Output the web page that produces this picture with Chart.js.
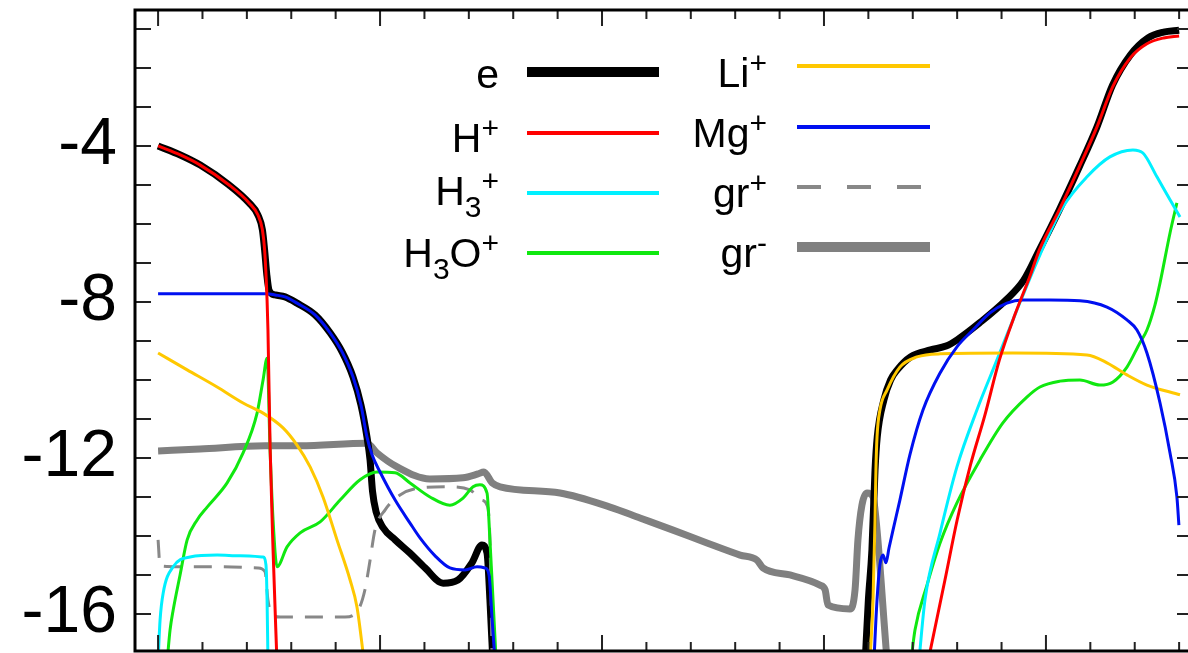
<!DOCTYPE html>
<html>
<head>
<meta charset="utf-8">
<script src="https://cdn.jsdelivr.net/npm/chart.js@4.4.1/dist/chart.umd.min.js"></script>
<style>
  html, body { margin: 0; padding: 0; background: #fff; }
  #wrap { position: relative; width: 1188px; height: 653px; overflow: hidden; }
  #legend { position: absolute; left: 0; top: 0; width: 1188px; height: 653px; pointer-events: none;
            font-family: 'Liberation Sans', Arial, sans-serif; color: #000; }
  .lab { position: absolute; font-size: 41px; line-height: 40px; white-space: nowrap; text-align: right; }
  .lab sup, .lab sub { font-size: 30px; line-height: 0; position: relative; vertical-align: baseline; }
  .lab sup { top: -14px; }
  .lab sub { top: 12px; }
  .swatch { position: absolute; }
</style>
</head>
<body>
<div id="wrap">
  <canvas id="chart" width="1188" height="653"></canvas>
  <div id="legend"></div>
</div>
<script>
// y tick labels (log abundance)
const yTickVals = [-16, -12, -8, -4];

// e (two branches, null = gap)
const eX = [0, 0.10, 0.19, 0.32, 0.41, 0.45, 0.47, 0.48, 0.49, 0.50, 0.527, 0.572, 0.626, 0.707, 0.775, 0.829, 0.878, 0.914, 0.941,
  0.955, 0.966, 0.982, 1.014, 1.068, 1.135, 1.203, 1.284, 1.351, 1.414, 1.459, 1.482, 1.495, 1.509, null,
  3.185, 3.20, 3.216, 3.23, 3.24, 3.27, 3.30, 3.33, 3.39, 3.48, 3.55, 3.60, 3.70, 3.82, 3.90, 3.97, 4.06, 4.15,
  4.23, 4.30, 4.38, 4.46, 4.53, 4.60];
const eY = [-4.00, -4.23, -4.49, -5.00, -5.46, -5.77, -6.15, -6.67, -7.31, -7.70, -7.82, -7.87, -8.03, -8.33, -8.79, -9.28, -9.92, -10.64, -11.46,
  -12.05, -12.85, -13.38, -13.79, -14.10, -14.44, -14.82, -15.21, -15.13, -14.69, -14.23, -14.44, -15.64, -17.3, null,
  -17.3, -15.64, -14.36, -12.31, -11.46, -10.51, -10.00, -9.74, -9.41, -9.23, -9.13, -8.97, -8.54, -7.95, -7.44, -6.67, -5.64, -4.54,
  -3.51, -2.44, -1.67, -1.23, -1.08, -1.03];

// H+
const hX = [0, 0.10, 0.19, 0.32, 0.41, 0.45, 0.47, 0.48, 0.491, 0.495, 0.505, 0.518, 0.536, null,
  3.473, 3.545, 3.60, 3.66, 3.725, 3.79, 3.86, 3.93, 3.97, 4.06, 4.15, 4.23, 4.30, 4.38, 4.455, 4.53, 4.60];
const hY = [-4.00, -4.23, -4.49, -5.00, -5.46, -5.77, -6.15, -6.67, -7.95, -8.72, -11.79, -14.36, -17.3, null,
  -17.1, -15.13, -13.59, -12.18, -10.90, -9.49, -8.33, -7.31, -6.67, -5.64, -4.54, -3.51, -2.49, -1.74, -1.38, -1.23, -1.18];

// H3+
const h3X = [0, 0.009, 0.023, 0.068, 0.144, 0.266, 0.37, 0.473, 0.486, 0.491, 0.495, null,
  3.428, 3.455, 3.523, 3.599, 3.689, 3.779, 3.869, 3.973, 4.077, 4.185, 4.288, 4.392, 4.437, 4.50, 4.559, 4.604];
const h3Y = [-17.2, -16.15, -15.46, -14.79, -14.54, -14.49, -14.51, -14.54, -14.74, -15.64, -17.2, null,
  -17.2, -15.64, -13.92, -12.23, -10.77, -9.49, -8.21, -6.79, -5.56, -4.79, -4.28, -4.10, -4.18, -4.79, -5.38, -5.82];

// H3O+
const h3oX = [0.041, 0.054, 0.068, 0.099, 0.131, 0.176, 0.221, 0.311, 0.383, 0.446, 0.473, 0.491, 0.505, 0.518, 0.536,
  0.581, 0.640, 0.730, 0.820, 0.910, 0.986, 1.068, 1.135, 1.225, 1.315, 1.374, 1.419, 1.450, 1.482, 1.495, 1.509, 1.523, null,
  3.392, 3.410, 3.464, 3.523, 3.599, 3.703, 3.806, 3.914, 3.973, 4.063, 4.153, 4.243, 4.302, 4.365, 4.423, 4.455,
  4.491, 4.514, 4.559, 4.590];
const h3oY = [-17.2, -16.41, -15.90, -15.00, -14.10, -13.59, -13.26, -12.64, -11.87, -10.85, -10.00, -9.44, -11.87, -13.59, -14.79,
  -14.28, -13.92, -13.64, -13.08, -12.56, -12.36, -12.38, -12.64, -13.00, -13.21, -13.03, -12.74, -12.69, -12.90, -14.10, -15.64, -17.2, null,
  -17.2, -16.41, -15.26, -14.18, -13.15, -12.05, -11.10, -10.44, -10.18, -10.03, -10.00, -10.13, -10.05, -9.67, -9.05, -8.72,
  -8.08, -7.51, -6.23, -5.46];

// Li+
const liX = [0, 0.131, 0.266, 0.383, 0.473, 0.563, 0.626, 0.685, 0.743, 0.806, 0.865, 0.896, 0.928, null,
  3.207, 3.221, 3.230, 3.234, 3.239, 3.252, 3.284, 3.342, 3.419, 3.523, 3.851, 4.185, 4.275, 4.365, 4.455, 4.604];
const liY = [-9.31, -9.74, -10.18, -10.59, -10.85, -11.23, -11.67, -12.23, -13.00, -14.10, -15.13, -15.82, -17.2, null,
  -17.2, -15.64, -13.59, -12.31, -11.46, -10.77, -10.26, -9.67, -9.41, -9.33, -9.31, -9.36, -9.56, -9.87, -10.13, -10.38];

// Mg+
const mgX = [0, 0.491, 0.527, 0.572, 0.626, 0.707, 0.775, 0.829, 0.878, 0.914, 0.941, 0.964, 1.000, 1.068, 1.135, 1.180, 1.248, 1.315,
  1.383, 1.437, 1.473, 1.491, 1.505, 1.518, null,
  3.225, 3.239, 3.252, 3.266, 3.279, 3.293, 3.311, 3.342, 3.387, 3.446, 3.523, 3.599, 3.671, 3.748, 3.824, 3.896,
  4.018, 4.153, 4.275, 4.365, 4.410, 4.455, 4.514, 4.559, 4.590, 4.599];
const mgY = [-7.79, -7.79, -7.82, -7.87, -8.03, -8.33, -8.79, -9.28, -9.92, -10.64, -11.46, -11.92, -12.36, -13.08, -13.67, -14.05, -14.51, -14.82,
  -14.87, -14.79, -14.82, -15.00, -16.15, -17.2, null,
  -17.2, -15.64, -14.74, -14.49, -14.69, -14.31, -13.85, -13.08, -11.92, -10.77, -9.82, -9.15, -8.72, -8.28, -8.03, -7.95,
  -7.95, -7.97, -8.13, -8.46, -8.72, -9.31, -10.59, -11.87, -13.00, -13.72];

// gr+
const grpX = [0, 0.009, 0.099, 0.279, 0.450, 0.482, 0.495, 0.514, 0.550, 0.842, 0.901, 0.932, 0.955, 0.977, 1.023, 1.090,
  1.180, 1.315, 1.405, 1.459, 1.482, 1.495, 1.505];
const grpY = [-14.10, -14.77, -14.79, -14.79, -14.82, -14.92, -15.64, -16.03, -16.08, -16.08, -15.90, -15.38, -14.62, -13.85, -13.33, -12.95,
  -12.77, -12.74, -12.82, -13.08, -13.21, -14.10, -17.2];

// gr-
const grmX = [0, 0.189, 0.482, 0.640, 0.941, 0.986, 1.077, 1.225, 1.374, 1.441, 1.468, 1.505, 1.541, 1.811, 2.036, 2.171, 2.320,
  2.473, 2.622, 2.698, 2.725, 2.847, 2.982, 3.005, 3.018, 3.117, 3.140, 3.153, 3.171, 3.194, 3.221, 3.239, 3.257, 3.270, 3.284];
const grmY = [-11.82, -11.77, -11.69, -11.69, -11.62, -11.87, -12.23, -12.54, -12.51, -12.41, -12.36, -12.64, -12.74, -12.90, -13.26, -13.54, -13.85,
  -14.18, -14.49, -14.62, -14.82, -15.00, -15.26, -15.38, -15.77, -15.87, -15.38, -14.10, -13.21, -12.90, -13.00, -13.85, -15.13, -16.15, -17.2];

const zip = (xs, ys) => xs.map((x, i) => ({x: x, y: ys[i]}));

// styles, legend order: e, H+, H3+, H3O+, Li+, Mg+, gr+, gr-
const series = [
  {name: 'e',    data: zip(eX, eY),     color: '#000000', width: 7, legW: 10, order: 8},
  {name: 'H+',   data: zip(hX, hY),     color: '#ff0000', width: 3, legW: 4, order: 1},
  {name: 'H3+',  data: zip(h3X, h3Y),   color: '#00f0ff', width: 3, legW: 4, order: 4},
  {name: 'H3O+', data: zip(h3oX, h3oY), color: '#10e810', width: 3, legW: 4, order: 5},
  {name: 'Li+',  data: zip(liX, liY),   color: '#ffc800', width: 3, legW: 4, order: 3},
  {name: 'Mg+',  data: zip(mgX, mgY),   color: '#0010f0', width: 3, legW: 4, order: 2},
  {name: 'gr+',  data: zip(grpX, grpY), color: '#888888', width: 3, legW: 4, order: 6, dash: [18, 12]},
  {name: 'gr-',  data: zip(grmX, grmY), color: '#808080', width: 7, legW: 10, order: 9},
];

const FONT = "'Liberation Sans', Arial, sans-serif";

const frameAndTicks = {
  id: 'frameAndTicks',
  afterDraw(chart) {
    const {ctx, chartArea: a} = chart;
    const x = chart.scales.x, y = chart.scales.y;
    ctx.save();
    ctx.strokeStyle = '#222';
    ctx.lineWidth = 2;
    ctx.beginPath();
    for (let k = 0; k <= 23; k++) {
      const px = x.getPixelForValue(k * 0.2);
      const len = k % 5 === 0 ? 16 : 9;
      ctx.moveTo(px, a.top); ctx.lineTo(px, a.top + len);
      ctx.moveTo(px, a.bottom); ctx.lineTo(px, a.bottom - len);
    }
    for (let v = -16; v <= -1; v++) {
      const py = y.getPixelForValue(v);
      ctx.moveTo(a.left, py); ctx.lineTo(a.left + 16, py);
      ctx.moveTo(a.right, py); ctx.lineTo(a.right - 11, py);
    }
    ctx.stroke();
    ctx.strokeStyle = '#000';
    ctx.lineWidth = 3;
    ctx.beginPath();
    ctx.moveTo(a.right + 5, a.top);
    ctx.lineTo(a.left, a.top);
    ctx.lineTo(a.left, a.bottom);
    ctx.lineTo(a.right + 5, a.bottom);
    ctx.stroke();
    ctx.restore();
  }
};

new Chart(document.getElementById('chart'), {
  type: 'line',
  data: {
    datasets: series.map(s => ({
      label: s.name,
      data: s.data,
      borderColor: s.color,
      backgroundColor: s.color,
      borderWidth: s.width,
      borderDash: s.dash || [],
      order: s.order,
      pointRadius: 0,
      fill: false,
      spanGaps: false,
      cubicInterpolationMode: 'monotone',
      borderJoinStyle: 'round',
    }))
  },
  options: {
    responsive: false,
    animation: false,
    devicePixelRatio: 1,
    layout: {padding: {left: 0, top: 10, right: 0, bottom: 2}},
    plugins: {legend: {display: false}, tooltip: {enabled: false}},
    scales: {
      x: {type: 'linear', min: -0.104, max: 4.64, display: false},
      y: {
        type: 'linear', min: -16.95, max: -0.513, position: 'left',
        grid: {display: false, drawTicks: false},
        border: {display: false},
        ticks: {color: '#000', padding: 18, font: {family: FONT, size: 66}},
        afterBuildTicks: s => { s.ticks = yTickVals.map(v => ({value: v})); },
        afterFit: s => { s.width = 135; s.paddingTop = 0; s.paddingBottom = 0; }
      }
    }
  },
  plugins: [frameAndTicks]
});

// legend: two columns of four rows, text right aligned, then a line sample
const legendCols = [
  {textRight: 499, x0: 527, x1: 659, lineY: [72, 133, 193, 253], base: [88, 152, 205, 267]},
  {textRight: 767, x0: 797, x1: 930, lineY: [66, 127, 187, 247], base: [87, 147, 207, 267]},
];
const toHtml = n => n.replace(/(\d)/g, '<sub>$1</sub>').replace(/([+-])$/, '<sup>$1</sup>');
const legendEl = document.getElementById('legend');
series.forEach((s, i) => {
  const col = legendCols[Math.floor(i / 4)], row = i % 4;
  const lab = document.createElement('div');
  lab.className = 'lab';
  lab.style.right = (1188 - col.textRight) + 'px';
  lab.style.top = (col.base[row] - 34) + 'px';
  lab.innerHTML = toHtml(s.name);
  legendEl.appendChild(lab);
  const sw = document.createElement('div');
  sw.className = 'swatch';
  sw.style.left = col.x0 + 'px';
  sw.style.width = (col.x1 - col.x0) + 'px';
  sw.style.top = (col.lineY[row] - s.legW / 2) + 'px';
  sw.style.height = s.legW + 'px';
  sw.style.background = s.dash
    ? 'repeating-linear-gradient(to right, ' + s.color + ' 0 24px, transparent 24px 50px)'
    : s.color;
  legendEl.appendChild(sw);
});
</script>
</body>
</html>
